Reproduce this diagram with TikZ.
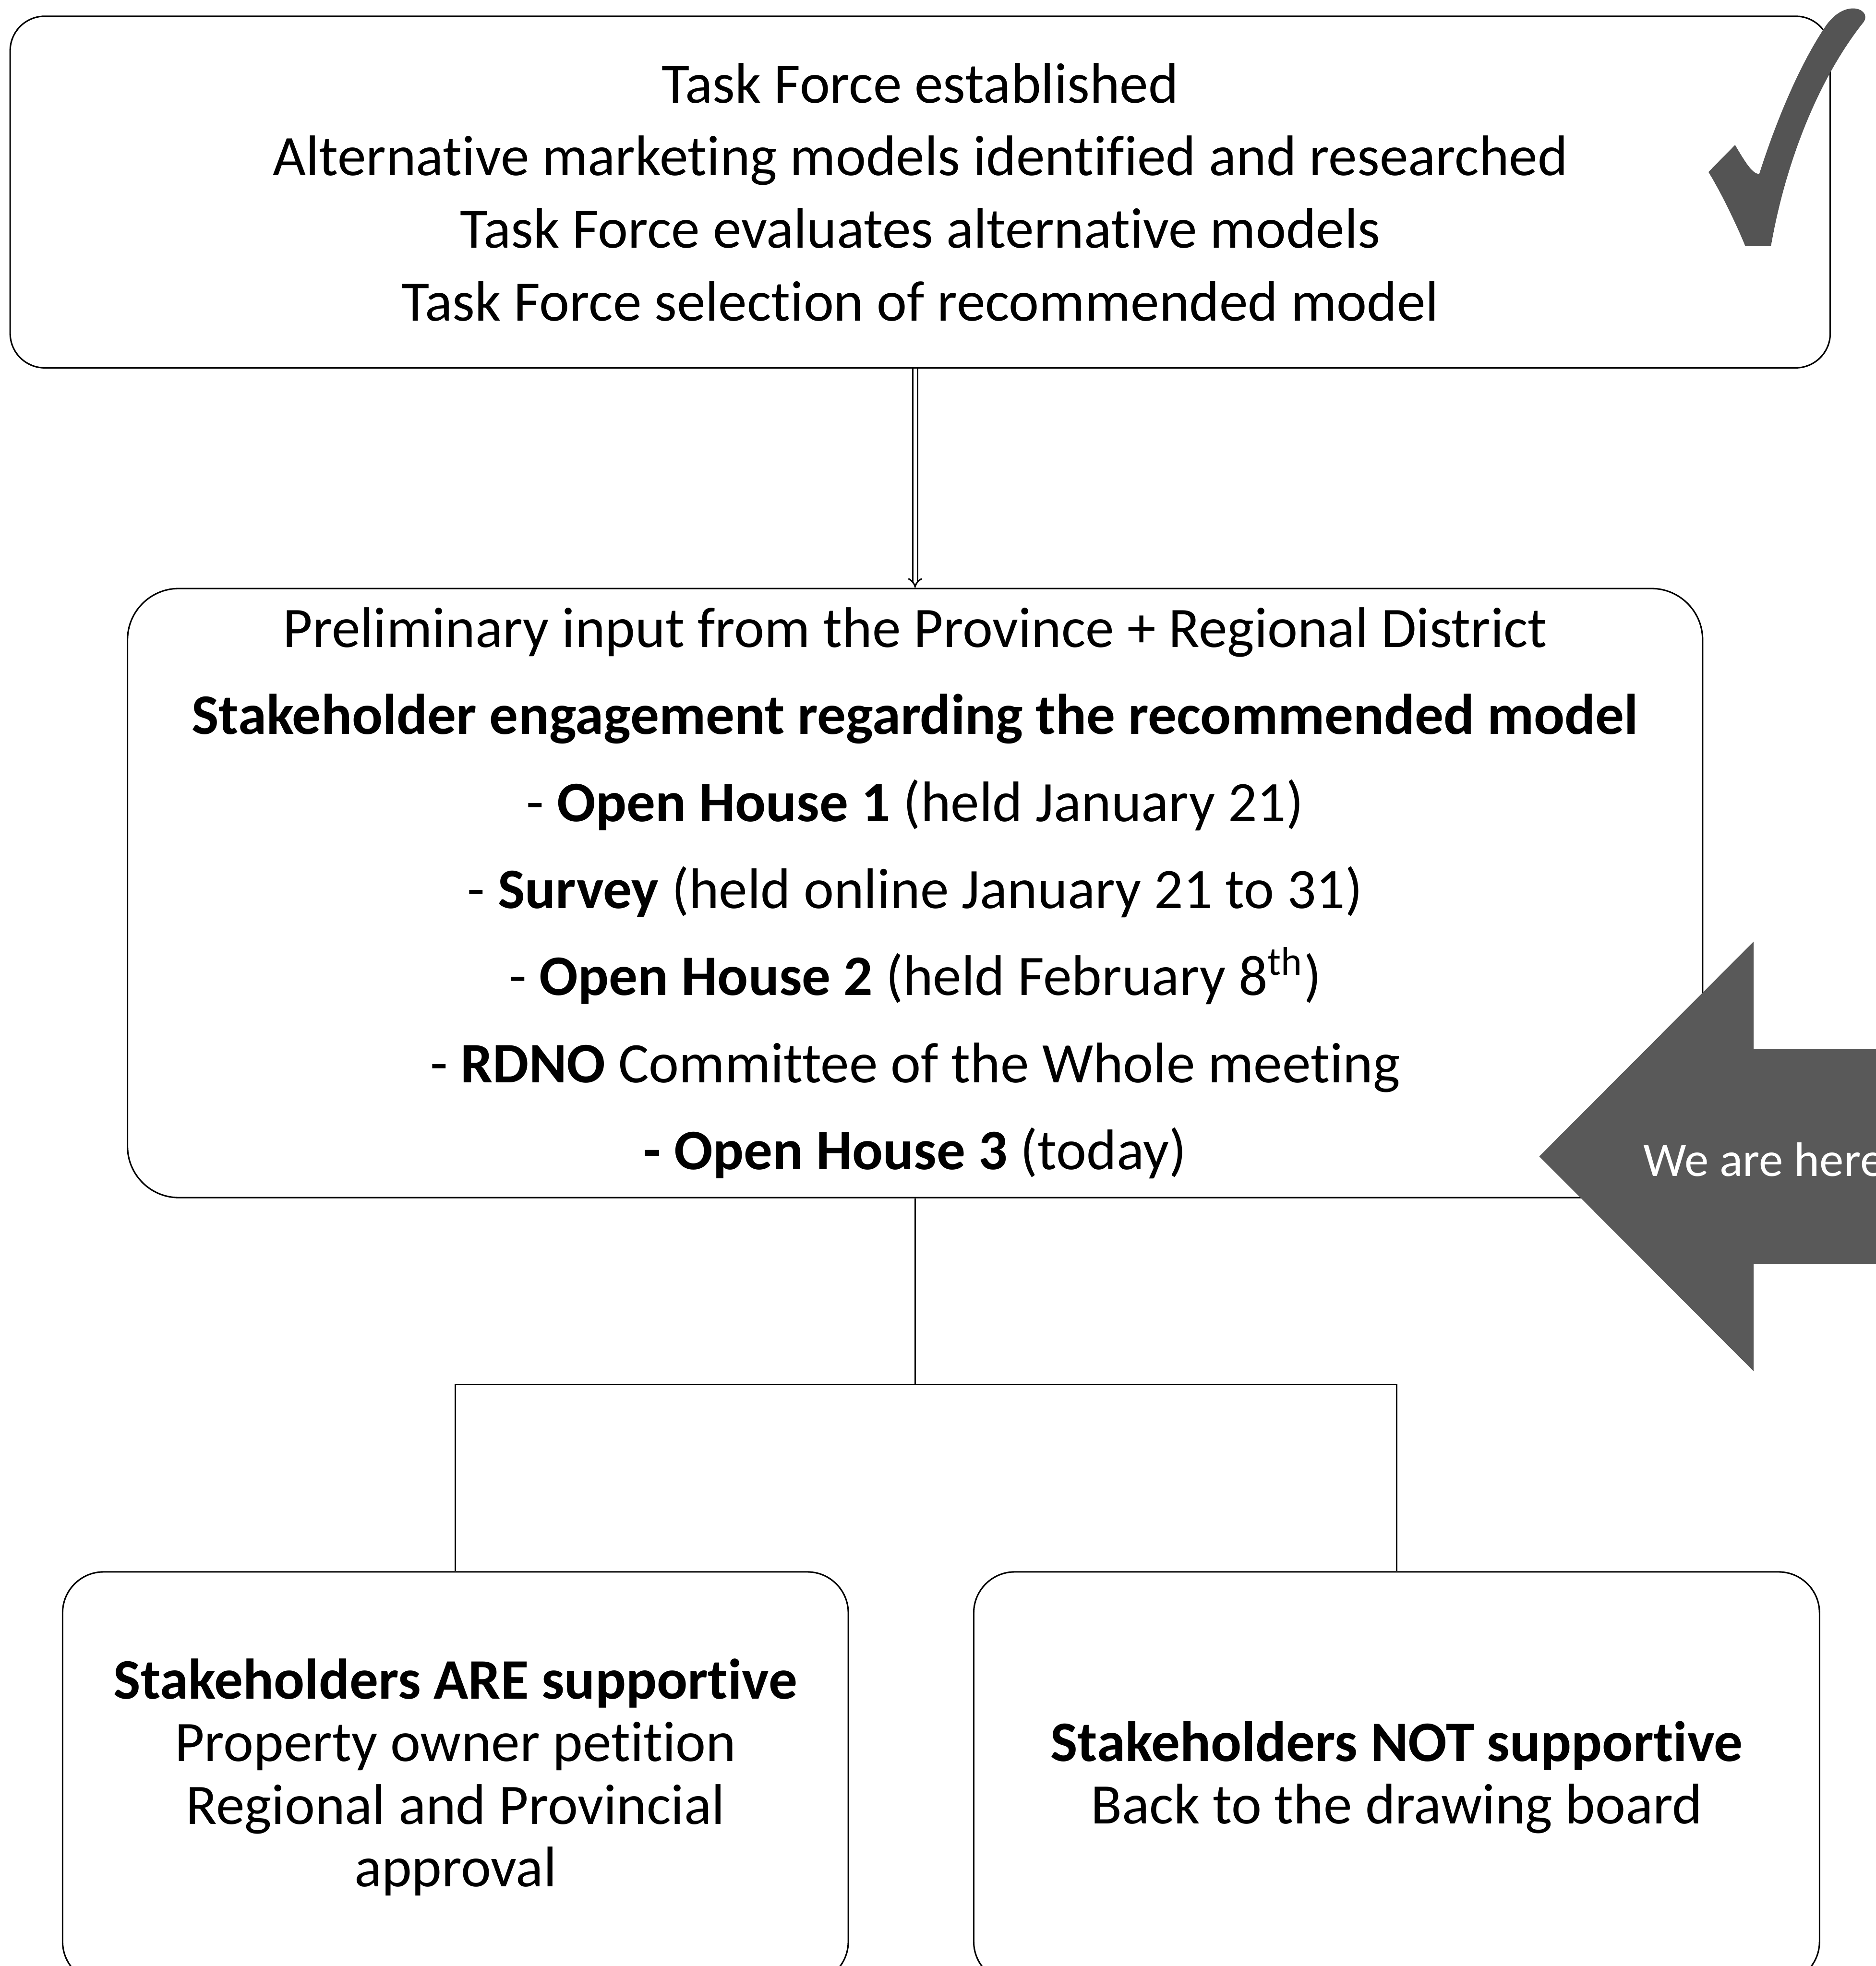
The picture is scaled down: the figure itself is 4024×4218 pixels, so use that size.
\documentclass[tikz,border=0pt]{standalone}
\usepackage{fontspec}
\setmainfont{Carlito}[Ligatures=NoCommon]
\usetikzlibrary{arrows.meta}
\definecolor{tickgray}{HTML}{545454}
\definecolor{heregray}{HTML}{595959}

\begin{document}
\begin{tikzpicture}[x=0.005cm,y=-0.005cm,
    stage/.style={draw,line width=0.45pt,inner sep=0pt,align=center},
    link/.style={line width=0.45pt}]
    \useasboundingbox (0,0) rectangle (4024,4218);
    % Task force box
    \node[stage,rounded corners=0.37cm,minimum width=19.54cm,minimum height=3.775cm,
        font=\fontsize{17.5pt}{22.2pt}\selectfont] (top) at (1974,412) {%
        Task Force established\\
        Alternative marketing models identified and researched\\
        Task Force evaluates alternative models\\
        Task Force selection of recommended model};
    % Engagement box
    \node[stage,rounded corners=0.55cm,minimum width=16.91cm,minimum height=6.54cm,
        font=\fontsize{17.5pt}{26.6pt}\selectfont] (mid) at (1963,1916) {%
        Preliminary input from the Province + Regional District\\
        \textbf{Stakeholder engagement regarding the recommended model}\\
        - \textbf{Open House 1} (held January 21)\\
        - \textbf{Survey} (held online January 21 to 31)\\
        - \textbf{Open House 2} (held February 8\textsuperscript{th})\\
        - \textbf{RDNO} Committee of the Whole meeting\\
        \textbf{- Open House 3} (today)};
    % Outcomes
    \node[stage,rounded corners=0.44cm,minimum width=8.435cm,minimum height=4.41cm,
        font=\fontsize{17.5pt}{19.1pt}\selectfont] (yes) at (977,3813) {%
        \textbf{Stakeholders ARE supportive}\\
        Property owner petition\\
        Regional and Provincial\\
        approval};
    \node[stage,rounded corners=0.44cm,minimum width=9.08cm,minimum height=4.41cm,
        font=\fontsize{17.5pt}{19.1pt}\selectfont] (no) at (2996,3813) {%
        \textbf{Stakeholders NOT supportive}\\
        Back to the drawing board};
    % Connections
    \draw[link,double,double distance=1pt,-{Implies}] (top.south -| mid.north) -- (mid.north);
    \coordinate (fork) at (1963,2970);
    \draw[link] (mid.south) -- (fork);
    \draw[link] (yes.north) |- (fork) -| (no.north);
    % We are here arrow
    \fill[heregray] (3302,2481) -- (3762,2020) -- (3762,2251) -- (4100,2251)
        -- (4100,2712) -- (3762,2712) -- (3762,2942) -- cycle;
    \node[anchor=base west,text=white,inner sep=0pt,font=\fontsize{14.8pt}{17pt}\selectfont]
        (here) at (3524,2523) {We are here};
    % Tick mark
    \fill[tickgray] (3665,369) -- (3722,311)
        .. controls (3745,350) and (3760,374) .. (3774,373)
        .. controls (3810,260) and (3860,140) .. (3915,58)
        .. controls (3935,28) and (3958,18) .. (3975,18)
        .. controls (3995,18) and (4008,32) .. (3998,47)
        .. controls (3900,170) and (3830,350) .. (3799,528)
        -- (3744,528)
        .. controls (3720,470) and (3690,410) .. cycle;
\end{tikzpicture}
\end{document}
